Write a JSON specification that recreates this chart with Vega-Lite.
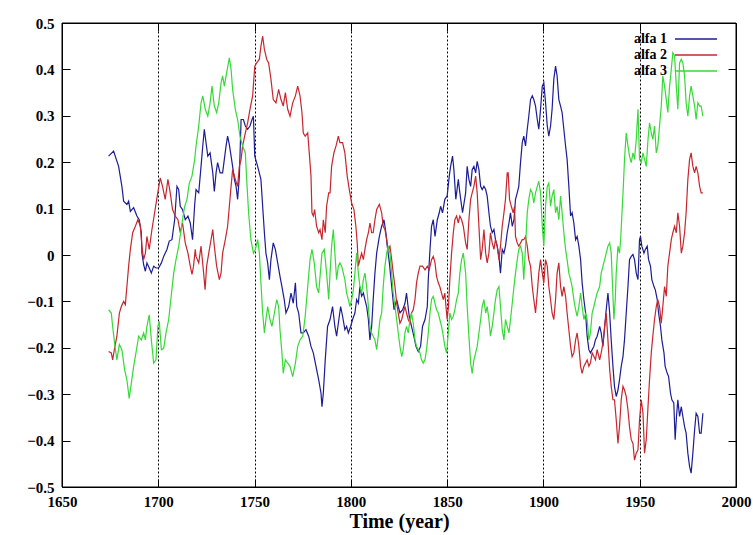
{
"$schema":"https://vega.github.io/schema/vega-lite/v6.json",
"width":674,"height":464,
"autosize":{"type":"none"},
"padding":{"left":62,"top":23,"right":17,"bottom":48},
"background":"white",
"config":{
 "view":{"stroke":"black","strokeWidth":1},
 "font":"Liberation Serif",
 "axis":{"domainColor":"black","domainWidth":1,"tickColor":"black","tickWidth":1,"labelColor":"black","labelFont":"Liberation Serif","labelFontSize":15,"labelFontWeight":"bold","titleColor":"black","titleFont":"Liberation Serif"}
},
"data":{"values":[
{"series":"alfa 1","year":1674.2,"value":0.213},
{"series":"alfa 1","year":1676.8,"value":0.224},
{"series":"alfa 1","year":1679.4,"value":0.191},
{"series":"alfa 1","year":1681.1,"value":0.148},
{"series":"alfa 1","year":1682.0,"value":0.116},
{"series":"alfa 1","year":1683.7,"value":0.109},
{"series":"alfa 1","year":1684.6,"value":0.116},
{"series":"alfa 1","year":1685.5,"value":0.094},
{"series":"alfa 1","year":1687.2,"value":0.102},
{"series":"alfa 1","year":1688.9,"value":0.084},
{"series":"alfa 1","year":1690.1,"value":0.076},
{"series":"alfa 1","year":1691.2,"value":0.048},
{"series":"alfa 1","year":1691.5,"value":0.004},
{"series":"alfa 1","year":1692.4,"value":-0.021},
{"series":"alfa 1","year":1693.3,"value":-0.035},
{"series":"alfa 1","year":1694.1,"value":-0.017},
{"series":"alfa 1","year":1695.3,"value":-0.028},
{"series":"alfa 1","year":1696.4,"value":-0.039},
{"series":"alfa 1","year":1697.6,"value":-0.024},
{"series":"alfa 1","year":1698.8,"value":-0.028},
{"series":"alfa 1","year":1700.2,"value":-0.028},
{"series":"alfa 1","year":1701.6,"value":-0.017},
{"series":"alfa 1","year":1702.8,"value":-0.003},
{"series":"alfa 1","year":1704.5,"value":0.012},
{"series":"alfa 1","year":1705.7,"value":0.030},
{"series":"alfa 1","year":1707.1,"value":0.033},
{"series":"alfa 1","year":1708.5,"value":0.076},
{"series":"alfa 1","year":1709.7,"value":0.148},
{"series":"alfa 1","year":1710.6,"value":0.141},
{"series":"alfa 1","year":1711.4,"value":0.105},
{"series":"alfa 1","year":1712.6,"value":0.098},
{"series":"alfa 1","year":1714.0,"value":0.076},
{"series":"alfa 1","year":1715.4,"value":0.084},
{"series":"alfa 1","year":1716.6,"value":0.069},
{"series":"alfa 1","year":1717.8,"value":0.033},
{"series":"alfa 1","year":1718.9,"value":0.109},
{"series":"alfa 1","year":1719.6,"value":0.141},
{"series":"alfa 1","year":1721.0,"value":0.134},
{"series":"alfa 1","year":1722.2,"value":0.191},
{"series":"alfa 1","year":1723.1,"value":0.235},
{"series":"alfa 1","year":1723.9,"value":0.271},
{"series":"alfa 1","year":1724.8,"value":0.242},
{"series":"alfa 1","year":1725.7,"value":0.213},
{"series":"alfa 1","year":1726.9,"value":0.220},
{"series":"alfa 1","year":1728.3,"value":0.177},
{"series":"alfa 1","year":1729.1,"value":0.137},
{"series":"alfa 1","year":1730.0,"value":0.177},
{"series":"alfa 1","year":1730.8,"value":0.199},
{"series":"alfa 1","year":1732.1,"value":0.177},
{"series":"alfa 1","year":1733.4,"value":0.177},
{"series":"alfa 1","year":1734.3,"value":0.206},
{"series":"alfa 1","year":1735.2,"value":0.235},
{"series":"alfa 1","year":1736.0,"value":0.256},
{"series":"alfa 1","year":1736.9,"value":0.238},
{"series":"alfa 1","year":1737.8,"value":0.213},
{"series":"alfa 1","year":1738.6,"value":0.191},
{"series":"alfa 1","year":1739.5,"value":0.163},
{"series":"alfa 1","year":1740.4,"value":0.148},
{"series":"alfa 1","year":1741.2,"value":0.120},
{"series":"alfa 1","year":1742.1,"value":0.170},
{"series":"alfa 1","year":1743.0,"value":0.292},
{"series":"alfa 1","year":1744.2,"value":0.292},
{"series":"alfa 1","year":1745.2,"value":0.278},
{"series":"alfa 1","year":1746.4,"value":0.271},
{"series":"alfa 1","year":1747.6,"value":0.278},
{"series":"alfa 1","year":1748.7,"value":0.292},
{"series":"alfa 1","year":1749.4,"value":0.299},
{"series":"alfa 1","year":1750.1,"value":0.213},
{"series":"alfa 1","year":1751.6,"value":0.191},
{"series":"alfa 1","year":1753.3,"value":0.163},
{"series":"alfa 1","year":1754.2,"value":0.105},
{"series":"alfa 1","year":1755.1,"value":0.048},
{"series":"alfa 1","year":1755.9,"value":0.004},
{"series":"alfa 1","year":1756.8,"value":-0.017},
{"series":"alfa 1","year":1757.7,"value":-0.053},
{"series":"alfa 1","year":1758.5,"value":-0.010},
{"series":"alfa 1","year":1759.7,"value":0.026},
{"series":"alfa 1","year":1760.8,"value":0.012},
{"series":"alfa 1","year":1762.0,"value":-0.017},
{"series":"alfa 1","year":1763.2,"value":-0.046},
{"series":"alfa 1","year":1764.2,"value":-0.068},
{"series":"alfa 1","year":1765.4,"value":-0.096},
{"series":"alfa 1","year":1766.3,"value":-0.125},
{"series":"alfa 1","year":1767.7,"value":-0.111},
{"series":"alfa 1","year":1768.9,"value":-0.082},
{"series":"alfa 1","year":1770.1,"value":-0.104},
{"series":"alfa 1","year":1771.2,"value":-0.060},
{"series":"alfa 1","year":1771.9,"value":-0.111},
{"series":"alfa 1","year":1772.9,"value":-0.125},
{"series":"alfa 1","year":1774.1,"value":-0.168},
{"series":"alfa 1","year":1775.3,"value":-0.168},
{"series":"alfa 1","year":1776.7,"value":-0.161},
{"series":"alfa 1","year":1778.1,"value":-0.175},
{"series":"alfa 1","year":1779.3,"value":-0.197},
{"series":"alfa 1","year":1780.5,"value":-0.211},
{"series":"alfa 1","year":1781.9,"value":-0.240},
{"series":"alfa 1","year":1783.3,"value":-0.269},
{"series":"alfa 1","year":1784.5,"value":-0.298},
{"series":"alfa 1","year":1785.0,"value":-0.327},
{"series":"alfa 1","year":1785.7,"value":-0.298},
{"series":"alfa 1","year":1786.7,"value":-0.226},
{"series":"alfa 1","year":1787.9,"value":-0.154},
{"series":"alfa 1","year":1789.2,"value":-0.139},
{"series":"alfa 1","year":1790.5,"value":-0.111},
{"series":"alfa 1","year":1791.7,"value":-0.154},
{"series":"alfa 1","year":1792.6,"value":-0.175},
{"series":"alfa 1","year":1793.5,"value":-0.147},
{"series":"alfa 1","year":1794.7,"value":-0.111},
{"series":"alfa 1","year":1795.7,"value":-0.132},
{"series":"alfa 1","year":1796.9,"value":-0.161},
{"series":"alfa 1","year":1797.8,"value":-0.154},
{"series":"alfa 1","year":1798.7,"value":-0.168},
{"series":"alfa 1","year":1799.9,"value":-0.154},
{"series":"alfa 1","year":1800.9,"value":-0.139},
{"series":"alfa 1","year":1802.1,"value":-0.125},
{"series":"alfa 1","year":1803.0,"value":-0.096},
{"series":"alfa 1","year":1803.9,"value":-0.104},
{"series":"alfa 1","year":1804.7,"value":-0.068},
{"series":"alfa 1","year":1805.6,"value":-0.089},
{"series":"alfa 1","year":1806.5,"value":-0.082},
{"series":"alfa 1","year":1807.3,"value":-0.096},
{"series":"alfa 1","year":1808.2,"value":-0.111},
{"series":"alfa 1","year":1809.1,"value":-0.139},
{"series":"alfa 1","year":1809.9,"value":-0.183},
{"series":"alfa 1","year":1810.8,"value":-0.154},
{"series":"alfa 1","year":1811.6,"value":-0.096},
{"series":"alfa 1","year":1812.5,"value":-0.039},
{"series":"alfa 1","year":1813.4,"value":0.004},
{"series":"alfa 1","year":1814.8,"value":0.040},
{"series":"alfa 1","year":1816.0,"value":0.062},
{"series":"alfa 1","year":1817.2,"value":0.076},
{"series":"alfa 1","year":1818.2,"value":0.048},
{"series":"alfa 1","year":1818.9,"value":0.019},
{"series":"alfa 1","year":1820.0,"value":-0.017},
{"series":"alfa 1","year":1821.2,"value":-0.068},
{"series":"alfa 1","year":1822.4,"value":-0.118},
{"series":"alfa 1","year":1823.8,"value":-0.096},
{"series":"alfa 1","year":1824.6,"value":-0.111},
{"series":"alfa 1","year":1825.5,"value":-0.125},
{"series":"alfa 1","year":1826.9,"value":-0.118},
{"series":"alfa 1","year":1828.1,"value":-0.104},
{"series":"alfa 1","year":1828.9,"value":-0.082},
{"series":"alfa 1","year":1830.3,"value":-0.132},
{"series":"alfa 1","year":1831.5,"value":-0.154},
{"series":"alfa 1","year":1832.7,"value":-0.175},
{"series":"alfa 1","year":1833.8,"value":-0.197},
{"series":"alfa 1","year":1835.0,"value":-0.208},
{"series":"alfa 1","year":1836.2,"value":-0.197},
{"series":"alfa 1","year":1837.2,"value":-0.154},
{"series":"alfa 1","year":1838.5,"value":-0.139},
{"series":"alfa 1","year":1839.7,"value":-0.111},
{"series":"alfa 1","year":1840.2,"value":-0.053},
{"series":"alfa 1","year":1841.1,"value":0.012},
{"series":"alfa 1","year":1841.9,"value":0.062},
{"series":"alfa 1","year":1842.8,"value":0.076},
{"series":"alfa 1","year":1843.7,"value":0.040},
{"series":"alfa 1","year":1844.9,"value":0.076},
{"series":"alfa 1","year":1845.9,"value":0.091},
{"series":"alfa 1","year":1846.6,"value":0.105},
{"series":"alfa 1","year":1847.6,"value":0.091},
{"series":"alfa 1","year":1848.8,"value":0.120},
{"series":"alfa 1","year":1850.0,"value":0.127},
{"series":"alfa 1","year":1851.1,"value":0.170},
{"series":"alfa 1","year":1851.8,"value":0.191},
{"series":"alfa 1","year":1852.8,"value":0.213},
{"series":"alfa 1","year":1853.5,"value":0.184},
{"series":"alfa 1","year":1854.5,"value":0.120},
{"series":"alfa 1","year":1855.8,"value":0.163},
{"series":"alfa 1","year":1856.6,"value":0.134},
{"series":"alfa 1","year":1858.0,"value":0.091},
{"series":"alfa 1","year":1859.6,"value":0.134},
{"series":"alfa 1","year":1860.4,"value":0.191},
{"series":"alfa 1","year":1861.3,"value":0.163},
{"series":"alfa 1","year":1862.2,"value":0.148},
{"series":"alfa 1","year":1863.0,"value":0.184},
{"series":"alfa 1","year":1863.9,"value":0.191},
{"series":"alfa 1","year":1864.8,"value":0.177},
{"series":"alfa 1","year":1865.6,"value":0.202},
{"series":"alfa 1","year":1866.5,"value":0.184},
{"series":"alfa 1","year":1867.4,"value":0.148},
{"series":"alfa 1","year":1868.2,"value":0.141},
{"series":"alfa 1","year":1869.1,"value":0.148},
{"series":"alfa 1","year":1870.0,"value":0.141},
{"series":"alfa 1","year":1870.8,"value":0.127},
{"series":"alfa 1","year":1871.7,"value":0.091},
{"series":"alfa 1","year":1872.5,"value":0.062},
{"series":"alfa 1","year":1873.4,"value":0.048},
{"series":"alfa 1","year":1874.3,"value":0.055},
{"series":"alfa 1","year":1875.1,"value":0.033},
{"series":"alfa 1","year":1876.0,"value":0.019},
{"series":"alfa 1","year":1876.9,"value":-0.003},
{"series":"alfa 1","year":1877.7,"value":-0.039},
{"series":"alfa 1","year":1878.6,"value":0.012},
{"series":"alfa 1","year":1879.5,"value":0.004},
{"series":"alfa 1","year":1880.3,"value":0.019},
{"series":"alfa 1","year":1881.2,"value":0.048},
{"series":"alfa 1","year":1882.1,"value":0.069},
{"series":"alfa 1","year":1882.9,"value":0.091},
{"series":"alfa 1","year":1883.8,"value":0.062},
{"series":"alfa 1","year":1884.7,"value":0.076},
{"series":"alfa 1","year":1885.5,"value":0.120},
{"series":"alfa 1","year":1886.4,"value":0.134},
{"series":"alfa 1","year":1887.2,"value":0.148},
{"series":"alfa 1","year":1888.1,"value":0.199},
{"series":"alfa 1","year":1889.0,"value":0.242},
{"series":"alfa 1","year":1889.8,"value":0.256},
{"series":"alfa 1","year":1890.7,"value":0.235},
{"series":"alfa 1","year":1891.6,"value":0.271},
{"series":"alfa 1","year":1892.4,"value":0.299},
{"series":"alfa 1","year":1893.3,"value":0.335},
{"series":"alfa 1","year":1894.2,"value":0.343},
{"series":"alfa 1","year":1895.0,"value":0.335},
{"series":"alfa 1","year":1895.9,"value":0.321},
{"series":"alfa 1","year":1896.8,"value":0.292},
{"series":"alfa 1","year":1897.6,"value":0.271},
{"series":"alfa 1","year":1898.5,"value":0.314},
{"series":"alfa 1","year":1899.4,"value":0.364},
{"series":"alfa 1","year":1900.2,"value":0.371},
{"series":"alfa 1","year":1901.1,"value":0.328},
{"series":"alfa 1","year":1902.0,"value":0.278},
{"series":"alfa 1","year":1902.8,"value":0.256},
{"series":"alfa 1","year":1903.7,"value":0.278},
{"series":"alfa 1","year":1904.5,"value":0.314},
{"series":"alfa 1","year":1905.4,"value":0.379},
{"series":"alfa 1","year":1906.3,"value":0.407},
{"series":"alfa 1","year":1907.1,"value":0.386},
{"series":"alfa 1","year":1908.0,"value":0.335},
{"series":"alfa 1","year":1908.9,"value":0.321},
{"series":"alfa 1","year":1909.7,"value":0.307},
{"series":"alfa 1","year":1910.6,"value":0.271},
{"series":"alfa 1","year":1911.5,"value":0.235},
{"series":"alfa 1","year":1912.3,"value":0.206},
{"series":"alfa 1","year":1913.2,"value":0.148},
{"series":"alfa 1","year":1914.1,"value":0.084},
{"series":"alfa 1","year":1914.9,"value":0.091},
{"series":"alfa 1","year":1915.8,"value":0.069},
{"series":"alfa 1","year":1916.7,"value":0.033},
{"series":"alfa 1","year":1917.5,"value":0.040},
{"series":"alfa 1","year":1918.4,"value":0.019},
{"series":"alfa 1","year":1919.3,"value":-0.010},
{"series":"alfa 1","year":1920.1,"value":-0.060},
{"series":"alfa 1","year":1921.0,"value":-0.096},
{"series":"alfa 1","year":1921.9,"value":-0.125},
{"series":"alfa 1","year":1922.7,"value":-0.175},
{"series":"alfa 1","year":1923.6,"value":-0.204},
{"series":"alfa 1","year":1924.4,"value":-0.211},
{"series":"alfa 1","year":1925.3,"value":-0.204},
{"series":"alfa 1","year":1926.2,"value":-0.197},
{"series":"alfa 1","year":1927.0,"value":-0.183},
{"series":"alfa 1","year":1927.9,"value":-0.175},
{"series":"alfa 1","year":1929.2,"value":-0.154},
{"series":"alfa 1","year":1930.0,"value":-0.168},
{"series":"alfa 1","year":1930.9,"value":-0.197},
{"series":"alfa 1","year":1931.8,"value":-0.154},
{"series":"alfa 1","year":1932.6,"value":-0.118},
{"series":"alfa 1","year":1933.5,"value":-0.082},
{"series":"alfa 1","year":1934.4,"value":-0.125},
{"series":"alfa 1","year":1935.2,"value":-0.183},
{"series":"alfa 1","year":1936.1,"value":-0.240},
{"series":"alfa 1","year":1936.9,"value":-0.283},
{"series":"alfa 1","year":1937.8,"value":-0.305},
{"series":"alfa 1","year":1938.7,"value":-0.291},
{"series":"alfa 1","year":1939.5,"value":-0.269},
{"series":"alfa 1","year":1940.4,"value":-0.240},
{"series":"alfa 1","year":1941.3,"value":-0.219},
{"series":"alfa 1","year":1942.1,"value":-0.183},
{"series":"alfa 1","year":1943.0,"value":-0.125},
{"series":"alfa 1","year":1943.9,"value":-0.068},
{"series":"alfa 1","year":1944.7,"value":-0.010},
{"series":"alfa 1","year":1945.6,"value":-0.003},
{"series":"alfa 1","year":1946.5,"value":0.001},
{"series":"alfa 1","year":1947.3,"value":-0.010},
{"series":"alfa 1","year":1948.2,"value":-0.039},
{"series":"alfa 1","year":1949.1,"value":-0.053},
{"series":"alfa 1","year":1949.9,"value":0.033},
{"series":"alfa 1","year":1950.4,"value":0.040},
{"series":"alfa 1","year":1951.1,"value":0.019},
{"series":"alfa 1","year":1952.2,"value":0.004},
{"series":"alfa 1","year":1952.9,"value":0.012},
{"series":"alfa 1","year":1953.9,"value":0.019},
{"series":"alfa 1","year":1954.6,"value":-0.010},
{"series":"alfa 1","year":1955.6,"value":-0.024},
{"series":"alfa 1","year":1956.3,"value":-0.053},
{"series":"alfa 1","year":1957.4,"value":-0.068},
{"series":"alfa 1","year":1958.1,"value":-0.075},
{"series":"alfa 1","year":1959.1,"value":-0.096},
{"series":"alfa 1","year":1959.8,"value":-0.125},
{"series":"alfa 1","year":1960.8,"value":-0.154},
{"series":"alfa 1","year":1961.5,"value":-0.183},
{"series":"alfa 1","year":1962.6,"value":-0.211},
{"series":"alfa 1","year":1963.2,"value":-0.240},
{"series":"alfa 1","year":1964.3,"value":-0.255},
{"series":"alfa 1","year":1965.0,"value":-0.262},
{"series":"alfa 1","year":1966.0,"value":-0.298},
{"series":"alfa 1","year":1966.7,"value":-0.312},
{"series":"alfa 1","year":1967.7,"value":-0.319},
{"series":"alfa 1","year":1968.4,"value":-0.398},
{"series":"alfa 1","year":1969.1,"value":-0.348},
{"series":"alfa 1","year":1969.8,"value":-0.312},
{"series":"alfa 1","year":1970.7,"value":-0.348},
{"series":"alfa 1","year":1971.6,"value":-0.327},
{"series":"alfa 1","year":1972.4,"value":-0.348},
{"series":"alfa 1","year":1973.3,"value":-0.370},
{"series":"alfa 1","year":1974.1,"value":-0.384},
{"series":"alfa 1","year":1975.0,"value":-0.427},
{"series":"alfa 1","year":1975.9,"value":-0.456},
{"series":"alfa 1","year":1976.7,"value":-0.470},
{"series":"alfa 1","year":1977.6,"value":-0.427},
{"series":"alfa 1","year":1978.5,"value":-0.377},
{"series":"alfa 1","year":1979.3,"value":-0.341},
{"series":"alfa 1","year":1980.2,"value":-0.348},
{"series":"alfa 1","year":1981.1,"value":-0.384},
{"series":"alfa 1","year":1981.9,"value":-0.384},
{"series":"alfa 1","year":1982.8,"value":-0.341},
{"series":"alfa 2","year":1674.2,"value":-0.208},
{"series":"alfa 2","year":1675.6,"value":-0.211},
{"series":"alfa 2","year":1676.3,"value":-0.226},
{"series":"alfa 2","year":1677.3,"value":-0.201},
{"series":"alfa 2","year":1678.5,"value":-0.175},
{"series":"alfa 2","year":1679.8,"value":-0.125},
{"series":"alfa 2","year":1680.8,"value":-0.111},
{"series":"alfa 2","year":1682.0,"value":-0.100},
{"series":"alfa 2","year":1682.9,"value":-0.107},
{"series":"alfa 2","year":1683.7,"value":-0.068},
{"series":"alfa 2","year":1684.6,"value":-0.024},
{"series":"alfa 2","year":1685.5,"value":0.012},
{"series":"alfa 2","year":1686.7,"value":0.048},
{"series":"alfa 2","year":1688.1,"value":0.062},
{"series":"alfa 2","year":1689.4,"value":0.076},
{"series":"alfa 2","year":1690.7,"value":0.062},
{"series":"alfa 2","year":1691.5,"value":0.019},
{"series":"alfa 2","year":1692.4,"value":-0.010},
{"series":"alfa 2","year":1693.3,"value":0.004},
{"series":"alfa 2","year":1694.1,"value":0.040},
{"series":"alfa 2","year":1695.3,"value":0.012},
{"series":"alfa 2","year":1696.7,"value":0.055},
{"series":"alfa 2","year":1698.1,"value":0.091},
{"series":"alfa 2","year":1699.3,"value":0.123},
{"series":"alfa 2","year":1701.0,"value":0.166},
{"series":"alfa 2","year":1702.2,"value":0.148},
{"series":"alfa 2","year":1703.6,"value":0.120},
{"series":"alfa 2","year":1705.0,"value":0.163},
{"series":"alfa 2","year":1706.2,"value":0.134},
{"series":"alfa 2","year":1707.4,"value":0.098},
{"series":"alfa 2","year":1708.8,"value":0.084},
{"series":"alfa 2","year":1710.2,"value":0.076},
{"series":"alfa 2","year":1711.4,"value":0.048},
{"series":"alfa 2","year":1712.6,"value":0.069},
{"series":"alfa 2","year":1714.0,"value":0.026},
{"series":"alfa 2","year":1715.4,"value":0.004},
{"series":"alfa 2","year":1716.6,"value":-0.024},
{"series":"alfa 2","year":1717.5,"value":-0.042},
{"series":"alfa 2","year":1718.3,"value":-0.024},
{"series":"alfa 2","year":1719.2,"value":0.012},
{"series":"alfa 2","year":1719.6,"value":-0.003},
{"series":"alfa 2","year":1721.0,"value":-0.017},
{"series":"alfa 2","year":1722.2,"value":0.019},
{"series":"alfa 2","year":1723.4,"value":-0.032},
{"series":"alfa 2","year":1724.3,"value":-0.075},
{"series":"alfa 2","year":1725.1,"value":-0.024},
{"series":"alfa 2","year":1726.2,"value":0.004},
{"series":"alfa 2","year":1727.4,"value":0.033},
{"series":"alfa 2","year":1728.3,"value":0.055},
{"series":"alfa 2","year":1729.1,"value":0.019},
{"series":"alfa 2","year":1730.3,"value":-0.024},
{"series":"alfa 2","year":1731.7,"value":-0.053},
{"series":"alfa 2","year":1732.6,"value":-0.039},
{"series":"alfa 2","year":1733.4,"value":0.004},
{"series":"alfa 2","year":1734.8,"value":0.033},
{"series":"alfa 2","year":1736.0,"value":0.062},
{"series":"alfa 2","year":1736.9,"value":0.105},
{"series":"alfa 2","year":1737.8,"value":0.148},
{"series":"alfa 2","year":1738.6,"value":0.184},
{"series":"alfa 2","year":1740.0,"value":0.163},
{"series":"alfa 2","year":1741.2,"value":0.148},
{"series":"alfa 2","year":1742.1,"value":0.191},
{"series":"alfa 2","year":1743.0,"value":0.206},
{"series":"alfa 2","year":1743.8,"value":0.235},
{"series":"alfa 2","year":1745.2,"value":0.263},
{"series":"alfa 2","year":1746.4,"value":0.285},
{"series":"alfa 2","year":1747.6,"value":0.314},
{"series":"alfa 2","year":1749.0,"value":0.343},
{"series":"alfa 2","year":1750.1,"value":0.407},
{"series":"alfa 2","year":1751.1,"value":0.414},
{"series":"alfa 2","year":1752.5,"value":0.422},
{"series":"alfa 2","year":1753.3,"value":0.450},
{"series":"alfa 2","year":1754.2,"value":0.472},
{"series":"alfa 2","year":1755.1,"value":0.443},
{"series":"alfa 2","year":1756.3,"value":0.422},
{"series":"alfa 2","year":1757.3,"value":0.414},
{"series":"alfa 2","year":1758.5,"value":0.379},
{"series":"alfa 2","year":1759.7,"value":0.335},
{"series":"alfa 2","year":1761.1,"value":0.328},
{"series":"alfa 2","year":1762.5,"value":0.357},
{"series":"alfa 2","year":1763.7,"value":0.335},
{"series":"alfa 2","year":1764.9,"value":0.321},
{"series":"alfa 2","year":1766.0,"value":0.350},
{"series":"alfa 2","year":1767.2,"value":0.314},
{"series":"alfa 2","year":1768.4,"value":0.299},
{"series":"alfa 2","year":1769.8,"value":0.328},
{"series":"alfa 2","year":1771.2,"value":0.343},
{"series":"alfa 2","year":1772.4,"value":0.364},
{"series":"alfa 2","year":1773.6,"value":0.343},
{"series":"alfa 2","year":1774.6,"value":0.307},
{"series":"alfa 2","year":1775.3,"value":0.263},
{"series":"alfa 2","year":1776.3,"value":0.256},
{"series":"alfa 2","year":1777.6,"value":0.263},
{"series":"alfa 2","year":1778.4,"value":0.220},
{"series":"alfa 2","year":1779.3,"value":0.170},
{"series":"alfa 2","year":1779.8,"value":0.091},
{"series":"alfa 2","year":1780.5,"value":0.084},
{"series":"alfa 2","year":1781.2,"value":0.098},
{"series":"alfa 2","year":1782.2,"value":0.062},
{"series":"alfa 2","year":1783.3,"value":0.048},
{"series":"alfa 2","year":1784.0,"value":0.055},
{"series":"alfa 2","year":1785.0,"value":0.033},
{"series":"alfa 2","year":1785.7,"value":0.076},
{"series":"alfa 2","year":1786.7,"value":0.048},
{"series":"alfa 2","year":1787.4,"value":0.105},
{"series":"alfa 2","year":1788.5,"value":0.134},
{"series":"alfa 2","year":1789.2,"value":0.134},
{"series":"alfa 2","year":1790.0,"value":0.191},
{"series":"alfa 2","year":1791.2,"value":0.220},
{"series":"alfa 2","year":1792.3,"value":0.235},
{"series":"alfa 2","year":1793.5,"value":0.256},
{"series":"alfa 2","year":1794.3,"value":0.242},
{"series":"alfa 2","year":1795.7,"value":0.242},
{"series":"alfa 2","year":1796.9,"value":0.220},
{"series":"alfa 2","year":1798.1,"value":0.170},
{"series":"alfa 2","year":1799.2,"value":0.141},
{"series":"alfa 2","year":1800.4,"value":0.112},
{"series":"alfa 2","year":1801.6,"value":0.098},
{"series":"alfa 2","year":1802.6,"value":0.062},
{"series":"alfa 2","year":1803.3,"value":0.026},
{"series":"alfa 2","year":1803.9,"value":-0.024},
{"series":"alfa 2","year":1804.7,"value":-0.010},
{"series":"alfa 2","year":1805.6,"value":0.004},
{"series":"alfa 2","year":1806.5,"value":-0.010},
{"series":"alfa 2","year":1807.3,"value":0.012},
{"series":"alfa 2","year":1808.2,"value":0.033},
{"series":"alfa 2","year":1809.1,"value":0.048},
{"series":"alfa 2","year":1809.9,"value":0.069},
{"series":"alfa 2","year":1810.8,"value":0.048},
{"series":"alfa 2","year":1811.6,"value":0.048},
{"series":"alfa 2","year":1812.5,"value":0.076},
{"series":"alfa 2","year":1813.4,"value":0.098},
{"series":"alfa 2","year":1814.8,"value":0.109},
{"series":"alfa 2","year":1816.0,"value":0.091},
{"series":"alfa 2","year":1816.8,"value":0.062},
{"series":"alfa 2","year":1817.7,"value":0.055},
{"series":"alfa 2","year":1818.6,"value":0.033},
{"series":"alfa 2","year":1819.4,"value":0.012},
{"series":"alfa 2","year":1820.3,"value":0.019},
{"series":"alfa 2","year":1821.2,"value":-0.010},
{"series":"alfa 2","year":1822.0,"value":-0.039},
{"series":"alfa 2","year":1822.9,"value":-0.068},
{"series":"alfa 2","year":1823.8,"value":-0.104},
{"series":"alfa 2","year":1824.6,"value":-0.125},
{"series":"alfa 2","year":1825.5,"value":-0.147},
{"series":"alfa 2","year":1826.4,"value":-0.139},
{"series":"alfa 2","year":1827.2,"value":-0.125},
{"series":"alfa 2","year":1828.1,"value":-0.111},
{"series":"alfa 2","year":1828.9,"value":-0.125},
{"series":"alfa 2","year":1829.8,"value":-0.139},
{"series":"alfa 2","year":1830.7,"value":-0.147},
{"series":"alfa 2","year":1831.5,"value":-0.125},
{"series":"alfa 2","year":1832.4,"value":-0.118},
{"series":"alfa 2","year":1833.3,"value":-0.096},
{"series":"alfa 2","year":1834.1,"value":-0.060},
{"series":"alfa 2","year":1835.0,"value":-0.039},
{"series":"alfa 2","year":1835.9,"value":-0.024},
{"series":"alfa 2","year":1837.2,"value":-0.024},
{"series":"alfa 2","year":1838.5,"value":-0.032},
{"series":"alfa 2","year":1839.7,"value":-0.024},
{"series":"alfa 2","year":1840.7,"value":-0.032},
{"series":"alfa 2","year":1841.9,"value":-0.010},
{"series":"alfa 2","year":1842.8,"value":-0.003},
{"series":"alfa 2","year":1843.7,"value":-0.017},
{"series":"alfa 2","year":1844.5,"value":-0.046},
{"series":"alfa 2","year":1845.4,"value":-0.060},
{"series":"alfa 2","year":1846.2,"value":-0.068},
{"series":"alfa 2","year":1847.1,"value":-0.082},
{"series":"alfa 2","year":1848.0,"value":-0.096},
{"series":"alfa 2","year":1848.8,"value":-0.082},
{"series":"alfa 2","year":1849.4,"value":-0.111},
{"series":"alfa 2","year":1850.0,"value":-0.139},
{"series":"alfa 2","year":1850.7,"value":-0.111},
{"series":"alfa 2","year":1851.4,"value":-0.053},
{"series":"alfa 2","year":1852.3,"value":0.004},
{"series":"alfa 2","year":1853.2,"value":0.048},
{"series":"alfa 2","year":1854.0,"value":0.076},
{"series":"alfa 2","year":1854.9,"value":0.084},
{"series":"alfa 2","year":1855.8,"value":0.069},
{"series":"alfa 2","year":1856.6,"value":0.084},
{"series":"alfa 2","year":1857.5,"value":0.076},
{"series":"alfa 2","year":1858.4,"value":0.062},
{"series":"alfa 2","year":1859.6,"value":0.026},
{"series":"alfa 2","year":1860.4,"value":0.012},
{"series":"alfa 2","year":1861.3,"value":0.076},
{"series":"alfa 2","year":1862.2,"value":0.120},
{"series":"alfa 2","year":1863.0,"value":0.134},
{"series":"alfa 2","year":1863.9,"value":0.148},
{"series":"alfa 2","year":1864.8,"value":0.170},
{"series":"alfa 2","year":1865.6,"value":0.134},
{"series":"alfa 2","year":1866.5,"value":0.062},
{"series":"alfa 2","year":1867.4,"value":-0.010},
{"series":"alfa 2","year":1868.2,"value":0.012},
{"series":"alfa 2","year":1869.1,"value":0.055},
{"series":"alfa 2","year":1870.0,"value":0.004},
{"series":"alfa 2","year":1870.8,"value":-0.017},
{"series":"alfa 2","year":1871.7,"value":0.004},
{"series":"alfa 2","year":1872.5,"value":0.048},
{"series":"alfa 2","year":1873.4,"value":0.026},
{"series":"alfa 2","year":1874.3,"value":0.012},
{"series":"alfa 2","year":1875.1,"value":0.033},
{"series":"alfa 2","year":1876.0,"value":0.019},
{"series":"alfa 2","year":1876.9,"value":-0.010},
{"series":"alfa 2","year":1877.7,"value":0.019},
{"series":"alfa 2","year":1878.6,"value":0.062},
{"series":"alfa 2","year":1879.5,"value":0.091},
{"series":"alfa 2","year":1880.3,"value":0.120},
{"series":"alfa 2","year":1881.2,"value":0.177},
{"series":"alfa 2","year":1881.7,"value":0.177},
{"series":"alfa 2","year":1882.4,"value":0.120},
{"series":"alfa 2","year":1883.3,"value":0.105},
{"series":"alfa 2","year":1884.3,"value":0.091},
{"series":"alfa 2","year":1885.0,"value":0.105},
{"series":"alfa 2","year":1885.5,"value":0.040},
{"series":"alfa 2","year":1886.4,"value":0.026},
{"series":"alfa 2","year":1887.2,"value":0.019},
{"series":"alfa 2","year":1888.1,"value":0.026},
{"series":"alfa 2","year":1889.0,"value":0.033},
{"series":"alfa 2","year":1889.8,"value":0.033},
{"series":"alfa 2","year":1890.7,"value":0.040},
{"series":"alfa 2","year":1891.6,"value":0.019},
{"series":"alfa 2","year":1892.4,"value":-0.010},
{"series":"alfa 2","year":1893.3,"value":-0.024},
{"series":"alfa 2","year":1894.2,"value":-0.068},
{"series":"alfa 2","year":1895.0,"value":-0.096},
{"series":"alfa 2","year":1895.9,"value":-0.125},
{"series":"alfa 2","year":1896.8,"value":-0.082},
{"series":"alfa 2","year":1897.6,"value":-0.039},
{"series":"alfa 2","year":1898.5,"value":-0.010},
{"series":"alfa 2","year":1899.4,"value":-0.039},
{"series":"alfa 2","year":1900.2,"value":-0.060},
{"series":"alfa 2","year":1901.1,"value":-0.010},
{"series":"alfa 2","year":1902.0,"value":-0.024},
{"series":"alfa 2","year":1902.8,"value":-0.068},
{"series":"alfa 2","year":1903.7,"value":-0.096},
{"series":"alfa 2","year":1904.5,"value":-0.125},
{"series":"alfa 2","year":1905.4,"value":-0.139},
{"series":"alfa 2","year":1906.3,"value":-0.096},
{"series":"alfa 2","year":1907.1,"value":-0.039},
{"series":"alfa 2","year":1908.0,"value":-0.017},
{"series":"alfa 2","year":1908.9,"value":-0.068},
{"series":"alfa 2","year":1909.7,"value":-0.089},
{"series":"alfa 2","year":1910.6,"value":-0.068},
{"series":"alfa 2","year":1911.5,"value":-0.089},
{"series":"alfa 2","year":1912.3,"value":-0.125},
{"series":"alfa 2","year":1913.2,"value":-0.161},
{"series":"alfa 2","year":1914.1,"value":-0.197},
{"series":"alfa 2","year":1914.9,"value":-0.219},
{"series":"alfa 2","year":1915.8,"value":-0.211},
{"series":"alfa 2","year":1916.7,"value":-0.183},
{"series":"alfa 2","year":1917.5,"value":-0.168},
{"series":"alfa 2","year":1918.4,"value":-0.197},
{"series":"alfa 2","year":1919.3,"value":-0.240},
{"series":"alfa 2","year":1920.1,"value":-0.255},
{"series":"alfa 2","year":1921.0,"value":-0.240},
{"series":"alfa 2","year":1921.9,"value":-0.233},
{"series":"alfa 2","year":1922.7,"value":-0.226},
{"series":"alfa 2","year":1923.6,"value":-0.240},
{"series":"alfa 2","year":1924.4,"value":-0.233},
{"series":"alfa 2","year":1925.3,"value":-0.211},
{"series":"alfa 2","year":1926.2,"value":-0.219},
{"series":"alfa 2","year":1927.0,"value":-0.226},
{"series":"alfa 2","year":1927.9,"value":-0.204},
{"series":"alfa 2","year":1929.2,"value":-0.226},
{"series":"alfa 2","year":1930.0,"value":-0.211},
{"series":"alfa 2","year":1930.9,"value":-0.190},
{"series":"alfa 2","year":1931.8,"value":-0.154},
{"series":"alfa 2","year":1932.6,"value":-0.125},
{"series":"alfa 2","year":1933.5,"value":-0.183},
{"series":"alfa 2","year":1934.4,"value":-0.247},
{"series":"alfa 2","year":1935.2,"value":-0.283},
{"series":"alfa 2","year":1936.1,"value":-0.312},
{"series":"alfa 2","year":1936.9,"value":-0.312},
{"series":"alfa 2","year":1937.8,"value":-0.355},
{"series":"alfa 2","year":1938.7,"value":-0.406},
{"series":"alfa 2","year":1939.5,"value":-0.370},
{"series":"alfa 2","year":1940.4,"value":-0.312},
{"series":"alfa 2","year":1941.3,"value":-0.283},
{"series":"alfa 2","year":1942.1,"value":-0.291},
{"series":"alfa 2","year":1943.0,"value":-0.305},
{"series":"alfa 2","year":1943.9,"value":-0.334},
{"series":"alfa 2","year":1944.7,"value":-0.370},
{"series":"alfa 2","year":1945.6,"value":-0.398},
{"series":"alfa 2","year":1946.5,"value":-0.406},
{"series":"alfa 2","year":1947.3,"value":-0.442},
{"series":"alfa 2","year":1948.2,"value":-0.427},
{"series":"alfa 2","year":1949.1,"value":-0.420},
{"series":"alfa 2","year":1949.9,"value":-0.355},
{"series":"alfa 2","year":1950.8,"value":-0.312},
{"series":"alfa 2","year":1951.7,"value":-0.341},
{"series":"alfa 2","year":1952.5,"value":-0.427},
{"series":"alfa 2","year":1953.4,"value":-0.398},
{"series":"alfa 2","year":1954.3,"value":-0.327},
{"series":"alfa 2","year":1955.1,"value":-0.269},
{"series":"alfa 2","year":1956.0,"value":-0.211},
{"series":"alfa 2","year":1956.8,"value":-0.175},
{"series":"alfa 2","year":1957.7,"value":-0.139},
{"series":"alfa 2","year":1958.6,"value":-0.111},
{"series":"alfa 2","year":1959.4,"value":-0.096},
{"series":"alfa 2","year":1960.3,"value":-0.111},
{"series":"alfa 2","year":1961.2,"value":-0.147},
{"series":"alfa 2","year":1962.0,"value":-0.111},
{"series":"alfa 2","year":1962.9,"value":-0.068},
{"series":"alfa 2","year":1963.8,"value":-0.089},
{"series":"alfa 2","year":1964.6,"value":-0.024},
{"series":"alfa 2","year":1965.5,"value":0.004},
{"series":"alfa 2","year":1966.4,"value":0.033},
{"series":"alfa 2","year":1967.2,"value":0.048},
{"series":"alfa 2","year":1968.1,"value":0.062},
{"series":"alfa 2","year":1969.0,"value":0.048},
{"series":"alfa 2","year":1969.8,"value":0.091},
{"series":"alfa 2","year":1970.7,"value":0.062},
{"series":"alfa 2","year":1971.6,"value":0.004},
{"series":"alfa 2","year":1972.4,"value":0.019},
{"series":"alfa 2","year":1973.3,"value":0.048},
{"series":"alfa 2","year":1974.1,"value":0.091},
{"series":"alfa 2","year":1975.0,"value":0.163},
{"series":"alfa 2","year":1975.9,"value":0.206},
{"series":"alfa 2","year":1976.7,"value":0.220},
{"series":"alfa 2","year":1977.6,"value":0.191},
{"series":"alfa 2","year":1978.5,"value":0.177},
{"series":"alfa 2","year":1979.3,"value":0.191},
{"series":"alfa 2","year":1980.2,"value":0.177},
{"series":"alfa 2","year":1981.1,"value":0.148},
{"series":"alfa 2","year":1981.9,"value":0.134},
{"series":"alfa 2","year":1982.8,"value":0.134},
{"series":"alfa 3","year":1674.2,"value":-0.118},
{"series":"alfa 3","year":1675.6,"value":-0.125},
{"series":"alfa 3","year":1676.3,"value":-0.154},
{"series":"alfa 3","year":1677.3,"value":-0.190},
{"series":"alfa 3","year":1678.5,"value":-0.226},
{"series":"alfa 3","year":1679.8,"value":-0.193},
{"series":"alfa 3","year":1681.1,"value":-0.204},
{"series":"alfa 3","year":1682.5,"value":-0.247},
{"series":"alfa 3","year":1683.7,"value":-0.269},
{"series":"alfa 3","year":1684.9,"value":-0.309},
{"series":"alfa 3","year":1686.0,"value":-0.276},
{"series":"alfa 3","year":1687.2,"value":-0.240},
{"series":"alfa 3","year":1688.4,"value":-0.211},
{"series":"alfa 3","year":1689.8,"value":-0.175},
{"series":"alfa 3","year":1691.2,"value":-0.183},
{"series":"alfa 3","year":1692.4,"value":-0.168},
{"series":"alfa 3","year":1693.3,"value":-0.183},
{"series":"alfa 3","year":1694.1,"value":-0.154},
{"series":"alfa 3","year":1695.3,"value":-0.129},
{"series":"alfa 3","year":1696.4,"value":-0.183},
{"series":"alfa 3","year":1697.6,"value":-0.233},
{"series":"alfa 3","year":1698.8,"value":-0.226},
{"series":"alfa 3","year":1699.8,"value":-0.154},
{"series":"alfa 3","year":1700.5,"value":-0.143},
{"series":"alfa 3","year":1701.6,"value":-0.204},
{"series":"alfa 3","year":1702.8,"value":-0.201},
{"series":"alfa 3","year":1704.0,"value":-0.168},
{"series":"alfa 3","year":1705.4,"value":-0.139},
{"series":"alfa 3","year":1706.7,"value":-0.089},
{"series":"alfa 3","year":1708.0,"value":-0.039},
{"series":"alfa 3","year":1709.2,"value":-0.010},
{"series":"alfa 3","year":1710.6,"value":0.019},
{"series":"alfa 3","year":1711.6,"value":0.048},
{"series":"alfa 3","year":1712.6,"value":0.076},
{"series":"alfa 3","year":1713.7,"value":0.105},
{"series":"alfa 3","year":1714.9,"value":0.120},
{"series":"alfa 3","year":1716.1,"value":0.155},
{"series":"alfa 3","year":1717.5,"value":0.170},
{"series":"alfa 3","year":1718.9,"value":0.206},
{"series":"alfa 3","year":1719.6,"value":0.235},
{"series":"alfa 3","year":1721.0,"value":0.278},
{"series":"alfa 3","year":1722.2,"value":0.328},
{"series":"alfa 3","year":1723.1,"value":0.343},
{"series":"alfa 3","year":1724.4,"value":0.314},
{"series":"alfa 3","year":1725.7,"value":0.299},
{"series":"alfa 3","year":1726.9,"value":0.328},
{"series":"alfa 3","year":1727.9,"value":0.364},
{"series":"alfa 3","year":1729.1,"value":0.321},
{"series":"alfa 3","year":1730.3,"value":0.307},
{"series":"alfa 3","year":1731.4,"value":0.328},
{"series":"alfa 3","year":1732.6,"value":0.371},
{"series":"alfa 3","year":1733.4,"value":0.386},
{"series":"alfa 3","year":1734.3,"value":0.364},
{"series":"alfa 3","year":1735.5,"value":0.393},
{"series":"alfa 3","year":1736.9,"value":0.425},
{"series":"alfa 3","year":1737.8,"value":0.400},
{"series":"alfa 3","year":1738.6,"value":0.357},
{"series":"alfa 3","year":1740.0,"value":0.314},
{"series":"alfa 3","year":1741.2,"value":0.292},
{"series":"alfa 3","year":1742.4,"value":0.256},
{"series":"alfa 3","year":1743.8,"value":0.235},
{"series":"alfa 3","year":1745.2,"value":0.220},
{"series":"alfa 3","year":1745.9,"value":0.163},
{"series":"alfa 3","year":1746.9,"value":0.091},
{"series":"alfa 3","year":1748.1,"value":0.033},
{"series":"alfa 3","year":1749.4,"value":0.004},
{"series":"alfa 3","year":1750.4,"value":0.012},
{"series":"alfa 3","year":1751.6,"value":0.033},
{"series":"alfa 3","year":1752.5,"value":0.004},
{"series":"alfa 3","year":1753.3,"value":-0.060},
{"series":"alfa 3","year":1754.2,"value":-0.125},
{"series":"alfa 3","year":1755.1,"value":-0.168},
{"series":"alfa 3","year":1755.9,"value":-0.139},
{"series":"alfa 3","year":1756.8,"value":-0.111},
{"series":"alfa 3","year":1758.0,"value":-0.139},
{"series":"alfa 3","year":1759.0,"value":-0.154},
{"series":"alfa 3","year":1760.3,"value":-0.125},
{"series":"alfa 3","year":1761.5,"value":-0.096},
{"series":"alfa 3","year":1762.5,"value":-0.111},
{"series":"alfa 3","year":1763.2,"value":-0.161},
{"series":"alfa 3","year":1764.2,"value":-0.211},
{"series":"alfa 3","year":1764.9,"value":-0.255},
{"series":"alfa 3","year":1766.0,"value":-0.226},
{"series":"alfa 3","year":1767.2,"value":-0.233},
{"series":"alfa 3","year":1768.4,"value":-0.240},
{"series":"alfa 3","year":1769.8,"value":-0.262},
{"series":"alfa 3","year":1771.2,"value":-0.233},
{"series":"alfa 3","year":1772.4,"value":-0.197},
{"series":"alfa 3","year":1773.6,"value":-0.183},
{"series":"alfa 3","year":1775.0,"value":-0.175},
{"series":"alfa 3","year":1776.3,"value":-0.132},
{"series":"alfa 3","year":1777.6,"value":-0.068},
{"series":"alfa 3","year":1778.8,"value":-0.010},
{"series":"alfa 3","year":1779.8,"value":0.012},
{"series":"alfa 3","year":1781.0,"value":-0.017},
{"series":"alfa 3","year":1782.2,"value":-0.068},
{"series":"alfa 3","year":1783.3,"value":-0.082},
{"series":"alfa 3","year":1784.0,"value":-0.046},
{"series":"alfa 3","year":1785.0,"value":0.004},
{"series":"alfa 3","year":1786.2,"value":0.012},
{"series":"alfa 3","year":1787.4,"value":-0.039},
{"series":"alfa 3","year":1788.5,"value":-0.096},
{"series":"alfa 3","year":1789.2,"value":-0.039},
{"series":"alfa 3","year":1790.0,"value":0.019},
{"series":"alfa 3","year":1790.9,"value":0.055},
{"series":"alfa 3","year":1791.7,"value":0.004},
{"series":"alfa 3","year":1792.6,"value":-0.053},
{"series":"alfa 3","year":1793.5,"value":-0.024},
{"series":"alfa 3","year":1794.3,"value":-0.017},
{"series":"alfa 3","year":1795.2,"value":-0.024},
{"series":"alfa 3","year":1796.1,"value":-0.039},
{"series":"alfa 3","year":1796.9,"value":-0.053},
{"series":"alfa 3","year":1797.8,"value":-0.082},
{"series":"alfa 3","year":1798.7,"value":-0.096},
{"series":"alfa 3","year":1799.5,"value":-0.111},
{"series":"alfa 3","year":1800.4,"value":-0.096},
{"series":"alfa 3","year":1801.3,"value":-0.075},
{"series":"alfa 3","year":1802.1,"value":-0.039},
{"series":"alfa 3","year":1803.0,"value":0.004},
{"series":"alfa 3","year":1803.9,"value":-0.039},
{"series":"alfa 3","year":1804.7,"value":-0.068},
{"series":"alfa 3","year":1805.6,"value":-0.082},
{"series":"alfa 3","year":1806.5,"value":-0.053},
{"series":"alfa 3","year":1807.3,"value":-0.039},
{"series":"alfa 3","year":1808.2,"value":-0.068},
{"series":"alfa 3","year":1809.1,"value":-0.111},
{"series":"alfa 3","year":1809.9,"value":-0.154},
{"series":"alfa 3","year":1810.8,"value":-0.168},
{"series":"alfa 3","year":1811.6,"value":-0.175},
{"series":"alfa 3","year":1812.5,"value":-0.183},
{"series":"alfa 3","year":1813.4,"value":-0.204},
{"series":"alfa 3","year":1814.2,"value":-0.175},
{"series":"alfa 3","year":1815.1,"value":-0.139},
{"series":"alfa 3","year":1816.0,"value":-0.125},
{"series":"alfa 3","year":1816.8,"value":-0.068},
{"series":"alfa 3","year":1817.7,"value":-0.024},
{"series":"alfa 3","year":1818.6,"value":0.004},
{"series":"alfa 3","year":1819.4,"value":0.019},
{"series":"alfa 3","year":1820.3,"value":0.004},
{"series":"alfa 3","year":1821.2,"value":-0.039},
{"series":"alfa 3","year":1822.0,"value":-0.082},
{"series":"alfa 3","year":1822.9,"value":-0.111},
{"series":"alfa 3","year":1823.8,"value":-0.139},
{"series":"alfa 3","year":1824.6,"value":-0.168},
{"series":"alfa 3","year":1825.5,"value":-0.197},
{"series":"alfa 3","year":1826.4,"value":-0.219},
{"series":"alfa 3","year":1827.2,"value":-0.204},
{"series":"alfa 3","year":1828.1,"value":-0.168},
{"series":"alfa 3","year":1828.9,"value":-0.154},
{"series":"alfa 3","year":1829.8,"value":-0.168},
{"series":"alfa 3","year":1830.7,"value":-0.139},
{"series":"alfa 3","year":1831.5,"value":-0.125},
{"series":"alfa 3","year":1832.4,"value":-0.147},
{"series":"alfa 3","year":1833.3,"value":-0.183},
{"series":"alfa 3","year":1834.1,"value":-0.197},
{"series":"alfa 3","year":1835.0,"value":-0.204},
{"series":"alfa 3","year":1835.9,"value":-0.211},
{"series":"alfa 3","year":1836.7,"value":-0.226},
{"series":"alfa 3","year":1837.6,"value":-0.233},
{"series":"alfa 3","year":1838.5,"value":-0.226},
{"series":"alfa 3","year":1839.3,"value":-0.204},
{"series":"alfa 3","year":1840.2,"value":-0.168},
{"series":"alfa 3","year":1841.1,"value":-0.125},
{"series":"alfa 3","year":1841.9,"value":-0.096},
{"series":"alfa 3","year":1842.8,"value":-0.089},
{"series":"alfa 3","year":1843.7,"value":-0.104},
{"series":"alfa 3","year":1844.5,"value":-0.118},
{"series":"alfa 3","year":1845.4,"value":-0.125},
{"series":"alfa 3","year":1846.2,"value":-0.139},
{"series":"alfa 3","year":1847.1,"value":-0.154},
{"series":"alfa 3","year":1848.0,"value":-0.175},
{"series":"alfa 3","year":1848.8,"value":-0.197},
{"series":"alfa 3","year":1849.7,"value":-0.211},
{"series":"alfa 3","year":1850.6,"value":-0.168},
{"series":"alfa 3","year":1851.4,"value":-0.125},
{"series":"alfa 3","year":1852.3,"value":-0.139},
{"series":"alfa 3","year":1853.2,"value":-0.132},
{"series":"alfa 3","year":1854.0,"value":-0.118},
{"series":"alfa 3","year":1854.9,"value":-0.096},
{"series":"alfa 3","year":1855.8,"value":-0.082},
{"series":"alfa 3","year":1856.6,"value":-0.039},
{"series":"alfa 3","year":1857.5,"value":-0.010},
{"series":"alfa 3","year":1858.4,"value":0.004},
{"series":"alfa 3","year":1859.6,"value":-0.039},
{"series":"alfa 3","year":1860.4,"value":-0.111},
{"series":"alfa 3","year":1861.3,"value":-0.175},
{"series":"alfa 3","year":1862.2,"value":-0.233},
{"series":"alfa 3","year":1863.0,"value":-0.255},
{"series":"alfa 3","year":1863.9,"value":-0.226},
{"series":"alfa 3","year":1864.8,"value":-0.211},
{"series":"alfa 3","year":1865.6,"value":-0.197},
{"series":"alfa 3","year":1866.5,"value":-0.168},
{"series":"alfa 3","year":1867.4,"value":-0.139},
{"series":"alfa 3","year":1868.2,"value":-0.111},
{"series":"alfa 3","year":1869.1,"value":-0.096},
{"series":"alfa 3","year":1870.0,"value":-0.125},
{"series":"alfa 3","year":1870.8,"value":-0.111},
{"series":"alfa 3","year":1871.7,"value":-0.139},
{"series":"alfa 3","year":1872.5,"value":-0.175},
{"series":"alfa 3","year":1873.4,"value":-0.154},
{"series":"alfa 3","year":1874.3,"value":-0.125},
{"series":"alfa 3","year":1875.1,"value":-0.096},
{"series":"alfa 3","year":1876.0,"value":-0.075},
{"series":"alfa 3","year":1876.9,"value":-0.068},
{"series":"alfa 3","year":1877.7,"value":-0.111},
{"series":"alfa 3","year":1878.6,"value":-0.161},
{"series":"alfa 3","year":1879.5,"value":-0.183},
{"series":"alfa 3","year":1880.3,"value":-0.139},
{"series":"alfa 3","year":1881.2,"value":-0.154},
{"series":"alfa 3","year":1882.1,"value":-0.168},
{"series":"alfa 3","year":1882.9,"value":-0.139},
{"series":"alfa 3","year":1883.8,"value":-0.104},
{"series":"alfa 3","year":1884.7,"value":-0.068},
{"series":"alfa 3","year":1885.5,"value":-0.039},
{"series":"alfa 3","year":1886.4,"value":-0.010},
{"series":"alfa 3","year":1887.2,"value":0.012},
{"series":"alfa 3","year":1888.1,"value":0.019},
{"series":"alfa 3","year":1889.0,"value":0.004},
{"series":"alfa 3","year":1889.8,"value":-0.053},
{"series":"alfa 3","year":1890.7,"value":0.019},
{"series":"alfa 3","year":1891.6,"value":0.091},
{"series":"alfa 3","year":1892.4,"value":0.120},
{"series":"alfa 3","year":1893.3,"value":0.141},
{"series":"alfa 3","year":1894.2,"value":0.134},
{"series":"alfa 3","year":1895.0,"value":0.112},
{"series":"alfa 3","year":1895.9,"value":0.134},
{"series":"alfa 3","year":1896.8,"value":0.148},
{"series":"alfa 3","year":1897.6,"value":0.159},
{"series":"alfa 3","year":1898.5,"value":0.134},
{"series":"alfa 3","year":1899.4,"value":0.062},
{"series":"alfa 3","year":1900.2,"value":0.019},
{"series":"alfa 3","year":1901.1,"value":0.105},
{"series":"alfa 3","year":1902.0,"value":0.148},
{"series":"alfa 3","year":1902.8,"value":0.155},
{"series":"alfa 3","year":1903.7,"value":0.105},
{"series":"alfa 3","year":1904.5,"value":0.127},
{"series":"alfa 3","year":1905.4,"value":0.141},
{"series":"alfa 3","year":1906.3,"value":0.091},
{"series":"alfa 3","year":1907.1,"value":0.105},
{"series":"alfa 3","year":1908.0,"value":0.076},
{"series":"alfa 3","year":1908.9,"value":0.127},
{"series":"alfa 3","year":1909.7,"value":0.091},
{"series":"alfa 3","year":1910.6,"value":0.048},
{"series":"alfa 3","year":1911.5,"value":0.012},
{"series":"alfa 3","year":1912.3,"value":-0.010},
{"series":"alfa 3","year":1913.2,"value":-0.039},
{"series":"alfa 3","year":1914.1,"value":-0.053},
{"series":"alfa 3","year":1914.9,"value":-0.068},
{"series":"alfa 3","year":1915.8,"value":-0.096},
{"series":"alfa 3","year":1916.7,"value":-0.118},
{"series":"alfa 3","year":1917.5,"value":-0.132},
{"series":"alfa 3","year":1918.4,"value":-0.111},
{"series":"alfa 3","year":1919.3,"value":-0.082},
{"series":"alfa 3","year":1920.1,"value":-0.111},
{"series":"alfa 3","year":1921.0,"value":-0.139},
{"series":"alfa 3","year":1921.9,"value":-0.125},
{"series":"alfa 3","year":1922.7,"value":-0.139},
{"series":"alfa 3","year":1923.6,"value":-0.183},
{"series":"alfa 3","year":1924.4,"value":-0.168},
{"series":"alfa 3","year":1925.3,"value":-0.125},
{"series":"alfa 3","year":1926.2,"value":-0.111},
{"series":"alfa 3","year":1927.0,"value":-0.096},
{"series":"alfa 3","year":1927.9,"value":-0.082},
{"series":"alfa 3","year":1929.2,"value":-0.068},
{"series":"alfa 3","year":1930.0,"value":-0.039},
{"series":"alfa 3","year":1930.9,"value":-0.024},
{"series":"alfa 3","year":1931.8,"value":-0.010},
{"series":"alfa 3","year":1932.6,"value":0.004},
{"series":"alfa 3","year":1933.5,"value":0.019},
{"series":"alfa 3","year":1934.4,"value":0.026},
{"series":"alfa 3","year":1935.2,"value":0.004},
{"series":"alfa 3","year":1936.1,"value":-0.089},
{"series":"alfa 3","year":1936.6,"value":-0.139},
{"series":"alfa 3","year":1937.3,"value":-0.096},
{"series":"alfa 3","year":1937.8,"value":-0.039},
{"series":"alfa 3","year":1938.7,"value":0.019},
{"series":"alfa 3","year":1939.5,"value":0.004},
{"series":"alfa 3","year":1940.1,"value":0.033},
{"series":"alfa 3","year":1940.8,"value":0.091},
{"series":"alfa 3","year":1941.5,"value":0.148},
{"series":"alfa 3","year":1942.1,"value":0.206},
{"series":"alfa 3","year":1943.0,"value":0.263},
{"series":"alfa 3","year":1943.9,"value":0.235},
{"series":"alfa 3","year":1944.7,"value":0.213},
{"series":"alfa 3","year":1945.6,"value":0.199},
{"series":"alfa 3","year":1946.5,"value":0.220},
{"series":"alfa 3","year":1947.3,"value":0.206},
{"series":"alfa 3","year":1948.2,"value":0.249},
{"series":"alfa 3","year":1949.1,"value":0.314},
{"series":"alfa 3","year":1949.9,"value":0.206},
{"series":"alfa 3","year":1950.8,"value":0.199},
{"series":"alfa 3","year":1951.7,"value":0.220},
{"series":"alfa 3","year":1952.5,"value":0.206},
{"series":"alfa 3","year":1953.4,"value":0.191},
{"series":"alfa 3","year":1954.3,"value":0.249},
{"series":"alfa 3","year":1955.1,"value":0.285},
{"series":"alfa 3","year":1956.0,"value":0.263},
{"series":"alfa 3","year":1956.8,"value":0.249},
{"series":"alfa 3","year":1957.7,"value":0.278},
{"series":"alfa 3","year":1958.6,"value":0.220},
{"series":"alfa 3","year":1959.4,"value":0.235},
{"series":"alfa 3","year":1960.3,"value":0.278},
{"series":"alfa 3","year":1961.2,"value":0.321},
{"series":"alfa 3","year":1962.0,"value":0.386},
{"series":"alfa 3","year":1962.9,"value":0.364},
{"series":"alfa 3","year":1963.8,"value":0.335},
{"series":"alfa 3","year":1964.6,"value":0.307},
{"series":"alfa 3","year":1965.5,"value":0.364},
{"series":"alfa 3","year":1966.4,"value":0.400},
{"series":"alfa 3","year":1967.2,"value":0.436},
{"series":"alfa 3","year":1968.1,"value":0.429},
{"series":"alfa 3","year":1969.0,"value":0.364},
{"series":"alfa 3","year":1969.8,"value":0.314},
{"series":"alfa 3","year":1970.7,"value":0.414},
{"series":"alfa 3","year":1971.6,"value":0.422},
{"series":"alfa 3","year":1972.4,"value":0.414},
{"series":"alfa 3","year":1973.3,"value":0.386},
{"series":"alfa 3","year":1974.1,"value":0.328},
{"series":"alfa 3","year":1975.0,"value":0.299},
{"series":"alfa 3","year":1975.9,"value":0.343},
{"series":"alfa 3","year":1976.7,"value":0.364},
{"series":"alfa 3","year":1977.6,"value":0.343},
{"series":"alfa 3","year":1978.5,"value":0.321},
{"series":"alfa 3","year":1979.3,"value":0.292},
{"series":"alfa 3","year":1980.2,"value":0.328},
{"series":"alfa 3","year":1981.1,"value":0.321},
{"series":"alfa 3","year":1981.9,"value":0.321},
{"series":"alfa 3","year":1982.8,"value":0.299}
]},
"layer":[
 {"mark":{"type":"line","strokeWidth":1.2},
  "encoding":{
   "x":{"field":"year","type":"quantitative","scale":{"domain":[1650,2000],"nice":false,"zero":false},
        "axis":{"values":[1650,1700,1750,1800,1850,1900,1950,2000],"format":"d","grid":true,"gridColor":"black","gridDash":[2,2],"gridWidth":1,"gridOpacity":1,"ticks":true,"tickSize":8,"offset":-8,"domain":false,"labelPadding":7,"labelFlush":false,"title":"Time (year)","titleFontSize":20,"titleFontWeight":"bold","titlePadding":2}},
   "y":{"field":"value","type":"quantitative","scale":{"domain":[-0.5,0.5],"nice":false,"zero":false},
        "axis":{"values":[-0.5,-0.4,-0.3,-0.2,-0.1,0,0.1,0.2,0.3,0.4,0.5],"labelExpr":"datum.value == 0 ? '0' : format(datum.value, '.1f')","grid":false,"ticks":true,"tickSize":8,"offset":-8,"domain":false,"title":null,"labelPadding":8,"labelFlush":false}},
   "color":{"field":"series","type":"nominal",
        "scale":{"domain":["alfa 1","alfa 2","alfa 3"],"range":["#1c1c96","#c8262e","#36da36"]},
        "legend":{"orient":"none","legendX":605,"legendY":8,"title":null,"symbolType":"M-3,0H3","symbolSize":196,"symbolStrokeWidth":1.5,"symbolOffset":21,"labelAlign":"right","labelOffset":-37,"labelFont":"Liberation Serif","labelFontSize":14,"labelFontWeight":"bold","labelColor":"black","rowPadding":1,"padding":0}}
  }},
 {"mark":{"type":"line","strokeOpacity":0},
  "encoding":{
   "x":{"field":"year","type":"quantitative","axis":{"orient":"top","offset":-8,"tickSize":8,"values":[1700,1750,1800,1850,1900,1950],"labels":false,"ticks":true,"grid":false,"domain":false,"title":null}},
   "y":{"field":"value","type":"quantitative","axis":{"orient":"right","offset":-8,"tickSize":8,"values":[-0.4,-0.3,-0.2,-0.1,0,0.1,0.2,0.3,0.4],"labels":false,"ticks":true,"grid":false,"domain":false,"title":null}},
   "detail":{"field":"series"}
  }},
 {"data":{"values":[{}]},"mark":{"type":"rule","color":"black","strokeWidth":1},
  "encoding":{"x":{"datum":1650,"axis":null}}},
 {"data":{"values":[{}]},"mark":{"type":"rule","color":"black","strokeWidth":1},
  "encoding":{"x":{"datum":2000,"axis":null}}},
 {"data":{"values":[{}]},"mark":{"type":"rule","color":"black","strokeWidth":1},
  "encoding":{"y":{"datum":-0.5,"axis":null}}},
 {"data":{"values":[{}]},"mark":{"type":"rule","color":"black","strokeWidth":1},
  "encoding":{"y":{"datum":0.5,"axis":null}}}
],
"resolve":{"axis":{"x":"independent","y":"independent"}}
}
